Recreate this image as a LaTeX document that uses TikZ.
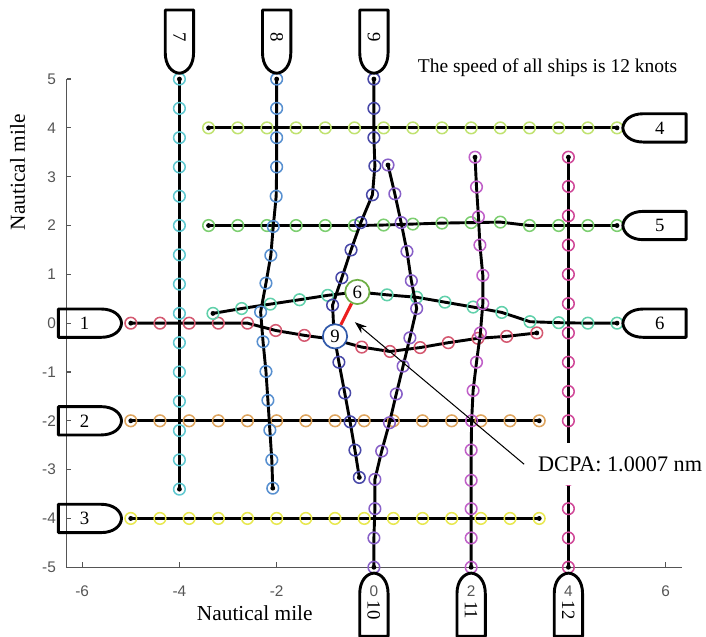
\documentclass[tikz,border=0pt]{standalone}
\usepackage{fontspec}
\setmainfont{Liberation Serif}
\setsansfont{Liberation Sans}
\usetikzlibrary{arrows.meta, positioning, plotmarks}

\definecolor{shipA}{RGB}{212,88,112}
\definecolor{shipB}{RGB}{222,165,95}
\definecolor{shipC}{RGB}{232,232,80}
\definecolor{shipD}{RGB}{192,226,112}
\definecolor{shipE}{RGB}{124,206,112}
\definecolor{shipF}{RGB}{96,208,170}
\definecolor{shipG}{RGB}{96,200,208}
\definecolor{shipH}{RGB}{88,144,208}
\definecolor{shipI}{RGB}{72,72,168}
\definecolor{shipJ}{RGB}{136,96,200}
\definecolor{shipK}{RGB}{192,96,200}
\definecolor{shipL}{RGB}{208,72,152}
\definecolor{axisgray}{RGB}{85,85,85}
\definecolor{ringgreen}{RGB}{110,175,70}
\definecolor{ringblue}{RGB}{50,90,170}
\definecolor{cpared}{RGB}{235,30,30}

\begin{document}
\begin{tikzpicture}[
    y=1.004cm,
    track/.style={line width=1.7pt, line cap=round, line join=round},
    shipmarks/.style={mark=o, mark size=3.4pt, mark options={draw=#1, line width=0.9pt}},
    boatline/.style={line width=1.7pt, line join=round},
    boat/.pic={\draw[boatline] (-1.3,-0.29) -- (-1.3,0.29) -- (-0.42,0.29)
        .. controls (-0.17,0.29) and (-0.01,0.16) .. (0,0)
        .. controls (-0.01,-0.16) and (-0.17,-0.29) .. (-0.42,-0.29) -- cycle;},
    shipno/.style={font=\fontsize{11}{13}\selectfont, inner sep=1pt},
    cpa/.style={circle, fill=white, line width=1pt, minimum size=0.5cm, inner sep=0pt, font=\fontsize{11}{13}\selectfont},
    ticklab/.style={text=axisgray, font=\sffamily\fontsize{9}{11}\selectfont, inner sep=1pt},
    axlabel/.style={font=\fontsize{12.5}{15}\selectfont}
]
\useasboundingbox (-7.69,-6.41) rectangle (6.83,6.62);

\draw[axisgray, line width=0.7pt] (-6.32,5) -- (-6.32,-5) -- (6.34,-5);
\foreach \y in {-5,...,5} {
    \draw[axisgray, line width=0.7pt] (-6.32,\y) -- ++(0.1,0);
    \node[ticklab, anchor=east] (yt\y) at (-6.5,\y) {\y};
}
\foreach \x in {-6,-4,...,6} {
    \draw[axisgray, line width=0.7pt] (\x,-5) -- ++(0,0.1);
    \node[ticklab] (xt\x) at (\x,-5.49) {\x};
}

\draw[track, shipmarks=shipA] plot coordinates {(-5,0) (-4.4,0) (-3.8,0) (-3.2,0) (-2.6,0) (-2.02,-0.15) (-1.43,-0.25) (-0.84,-0.33) (-0.25,-0.49) (0.33,-0.58) (0.95,-0.5) (1.53,-0.4) (2.14,-0.31) (2.73,-0.27) (3.35,-0.2)};
\draw[track, shipmarks=shipB] plot[domain=0:14, samples=15] ({-5+0.6*\x},-2);
\draw[track, shipmarks=shipC] plot[domain=0:14, samples=15] ({-5+0.6*\x},-4);
\draw[track, shipmarks=shipD] plot[domain=0:14, samples=15] ({5-0.6*\x},4);
\draw[track, shipmarks=shipE] plot coordinates {(5,2) (4.4,2) (3.8,2) (3.2,2) (2.6,2.07) (2,2.06) (1.4,2.05) (0.8,2.03) (0.2,2.01) (-0.4,2) (-1,2) (-1.6,2) (-2.2,2) (-2.8,2) (-3.4,2)};
\draw[track, shipmarks=shipF] plot coordinates {(5,0) (4.4,0) (3.8,0.01) (3.21,0.03) (2.63,0.22) (2.04,0.33) (1.46,0.43) (0.88,0.53) (0.27,0.58) (-0.34,0.64) (-0.95,0.57) (-1.53,0.48) (-2.13,0.39) (-2.72,0.3) (-3.31,0.2)};
\draw[track, shipmarks=shipG] plot[domain=0:14, samples=15] (-4,{5-0.6*\x});
\draw[track, shipmarks=shipH] plot coordinates {(-2,5) (-2,4.4) (-2,3.8) (-2,3.2) (-2.01,2.6) (-2.07,1.98) (-2.12,1.39) (-2.22,0.82) (-2.33,0.23) (-2.28,-0.38) (-2.22,-0.99) (-2.18,-1.58) (-2.14,-2.19) (-2.1,-2.8) (-2.08,-3.38)};
\draw[track, shipmarks=shipI] plot coordinates {(0,5) (0,4.4) (0,3.8) (0.02,3.22) (-0.03,2.63) (-0.27,2.06) (-0.47,1.5) (-0.66,0.93) (-0.85,0.37) (-0.82,-0.24) (-0.72,-0.8) (-0.6,-1.43) (-0.49,-2.02) (-0.39,-2.6) (-0.3,-3.16)};
\draw[track, shipmarks=shipJ] plot coordinates {(0,-5) (0,-4.4) (0.02,-3.8) (0.02,-3.2) (0.16,-2.62) (0.32,-2.04) (0.46,-1.45) (0.6,-0.88) (0.74,-0.3) (0.88,0.3) (0.77,0.87) (0.68,1.47) (0.56,2.06) (0.43,2.65) (0.29,3.24)};
\draw[track, shipmarks=shipK] plot coordinates {(2,-5) (2,-4.4) (2,-3.8) (2,-3.22) (2,-2.6) (2.01,-2) (2.04,-1.38) (2.11,-0.8) (2.19,-0.2) (2.24,0.4) (2.24,0.98) (2.18,1.6) (2.15,2.18) (2.11,2.79) (2.08,3.4)};
\draw[track, shipmarks=shipL] plot[domain=0:14, samples=15] (4,{-5+0.6*\x});

\foreach \x/\y in {-5/0, 3.35/-0.2, -5/-2, 3.4/-2, -5/-4, 3.4/-4, 5/4, -3.4/4, 5/2, -3.4/2, 5/0, -3.31/0.2, -4/5, -4/-3.4, -2/5, -2.08/-3.38, 0/5, -0.3/-3.16, 0/-5, 0.29/3.24, 2/-5, 2.08/3.4, 4/-5, 4/3.4}
    \fill (\x,\y) circle (0.05);

\foreach \y/\n in {0/1, -2/2, -4/3} {
    \pic at (-5.19,\y) {boat};
    \node[shipno] (no\n) at (-5.95,\y) {\n};
}
\foreach \y/\n in {4/4, 2/5, 0/6} {
    \pic[rotate=180] at (5.12,\y) {boat};
    \node[shipno] (no\n) at (5.88,\y) {\n};
}
\foreach \x/\n in {-4/7, -2/8, 0/9} {
    \pic[rotate=-90] at (\x,5.12) {boat};
    \node[shipno, rotate=-90] (no\n) at (\x,5.86) {\n};
}
\foreach \x/\n in {0/10, 2/11, 4/12} {
    \pic[rotate=90] at (\x,-5.12) {boat};
    \node[shipno, rotate=-90] (no\n) at (\x,-5.88) {\n};
}

\node[cpa, draw=ringgreen] (six) at (-0.34,0.64) {6};
\node[cpa, draw=ringblue] (nine) at (-0.8,-0.27) {9};
\draw[cpared, line width=1.8pt] (six) -- (nine);

\node[fill=white, inner sep=8pt, anchor=west, font=\fontsize{13}{15}\selectfont] (dcpa) at (3.09,-2.89) {DCPA: 1.0007 nm};
\coordinate (tip) at (-0.39,0.02);
\draw[-{Stealth[length=7pt, width=5pt]}, line width=0.6pt] (dcpa.west) -- (tip);

\node[font=\fontsize{11.4}{13}\selectfont] (speed) at (3.57,5.23) {The speed of all ships is 12 knots};
\node[axlabel] (xlab) at (-2.45,-5.94) {Nautical mile};
\node[axlabel, rotate=90] (ylab) at (-7.33,3.09) {Nautical mile};
\end{tikzpicture}
\end{document}
